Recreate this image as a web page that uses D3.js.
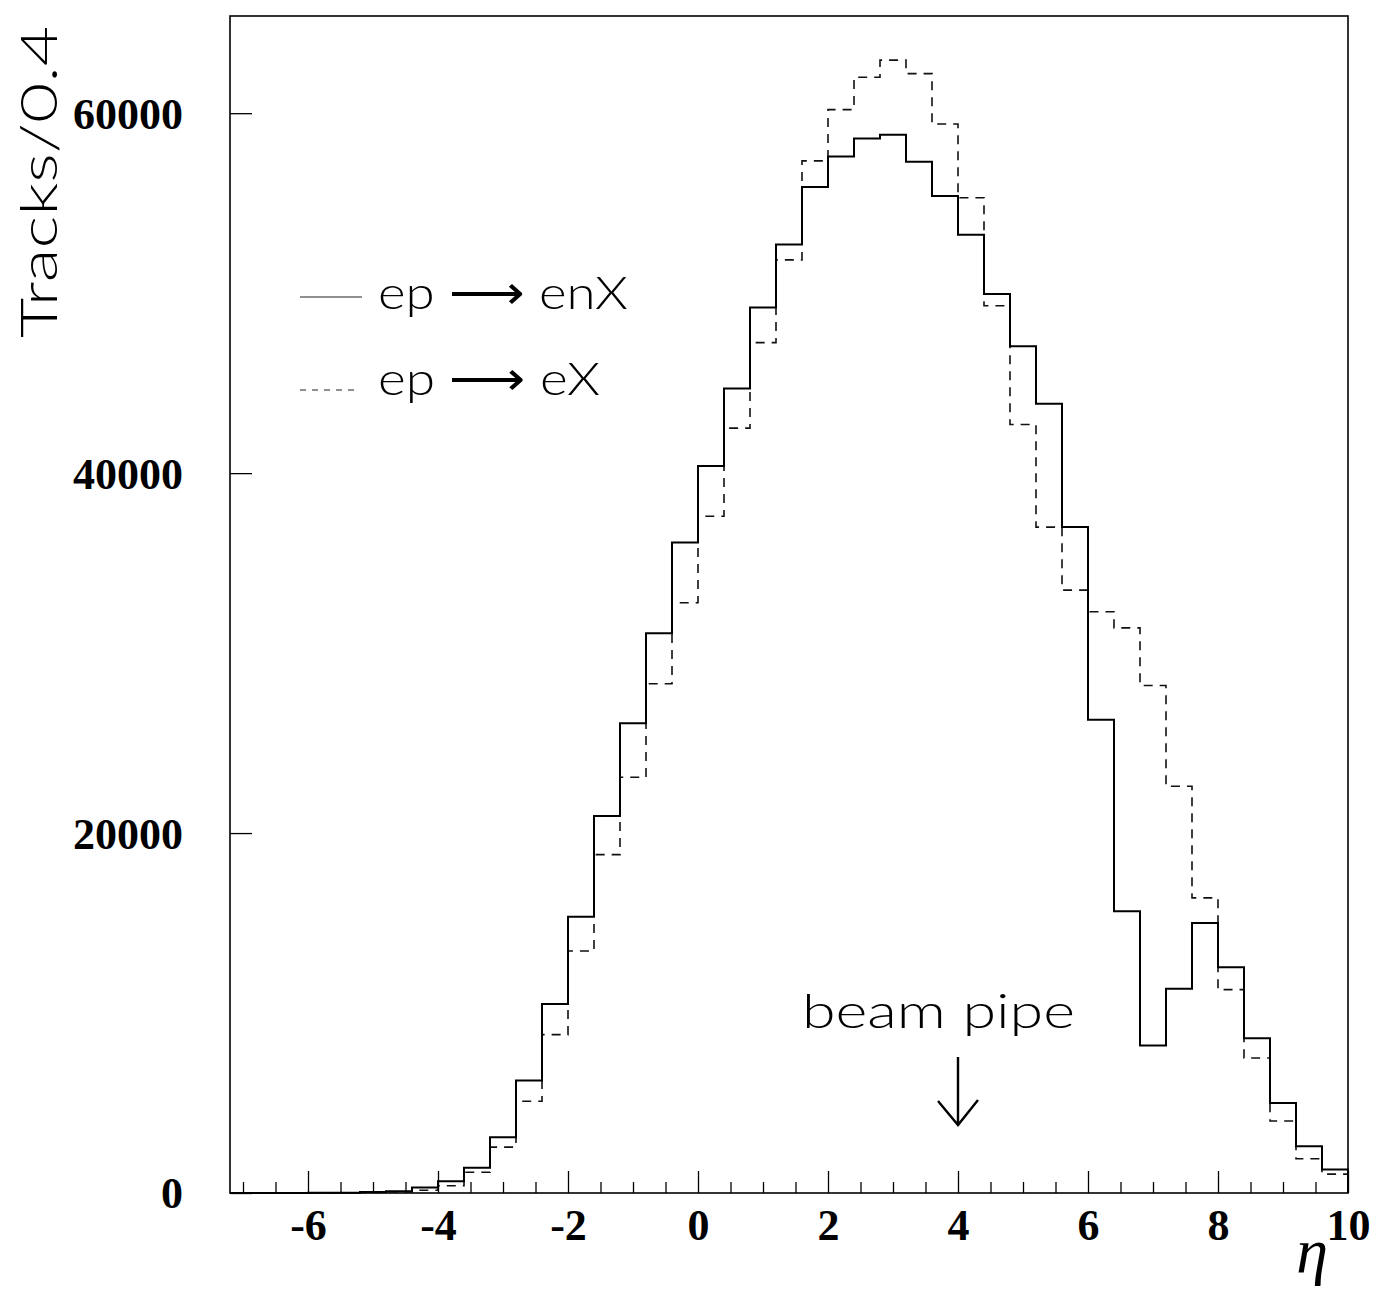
<!DOCTYPE html>
<html>
<head>
<meta charset="utf-8">
<script src="https://cdn.jsdelivr.net/npm/d3@7"></script>
<style>
  html, body { margin: 0; padding: 0; background: #fff; }
  svg { display: block; }
</style>
</head>
<body>
<svg id="chart" width="1394" height="1296"></svg>
<script>
// ---- data ----
const binStart = -7.2;
const binWidth = 0.4;
// ep -> enX (solid), tracks per 0.4 in eta, 43 bins from -7.2 to 10
const enX = [0, 0, 0, 10, 20, 50, 100, 300, 650, 1400, 3100, 6250, 10500, 15350, 20950,
  26100, 31100, 36150, 40400, 44700, 49200, 52700, 55900, 57600, 58600, 58800, 57300,
  55400, 53250, 49950, 47050, 43850, 37000, 26300, 15650, 8200, 11350, 15000, 12550,
  8600, 5000, 2600, 1300];
// ep -> eX (dashed)
const eX = [0, 0, 0, 0, 10, 30, 70, 150, 400, 1150, 2550, 5100, 8800, 13450, 18800,
  23100, 28300, 32800, 37600, 42500, 47250, 51850, 57350, 60200, 62000, 62950, 62200,
  59400, 55300, 49300, 42700, 37000, 33500, 32300, 31400, 28200, 22600, 16400, 11300,
  7500, 4000, 1900, 1050];
const xMajorTicks = [-6, -4, -2, 0, 2, 4, 6, 8, 10];
const xMinorTicks = [-7, -6.5, -5.5, -5, -4.5, -3.5, -3, -2.5, -1.5, -1, -0.5, 0.5, 1, 1.5,
  2.5, 3, 3.5, 4.5, 5, 5.5, 6.5, 7, 7.5, 8.5, 9, 9.5];
const yTicks = [0, 20000, 40000, 60000];
const legendLabels = ["ep \u27F6 enX", "ep \u27F6 eX"];
const yTitle = "Tracks/0.4";
const xTitle = "\u03B7";
const annotation = "beam pipe";
const annotationEta = 4;

// ---- layout ----
const svg = d3.select("#chart");
const L = 230, R = 1348, T = 16, B = 1193;
const x = d3.scaleLinear().domain([-7.2, 10]).range([L, R]);
const y = d3.scaleLinear().domain([0, 65400]).range([B, T]);

const serif = "'Liberation Serif', 'Times New Roman', serif";
const sans = "Lato, 'DejaVu Sans', sans-serif";

// histogram outline path builder
function histPoints(vals) {
  const pts = [[binStart, 0]];
  vals.forEach((v, i) => {
    const a = binStart + i * binWidth, b = binStart + (i + 1) * binWidth;
    pts.push([a, v], [b, v]);
  });
  pts.push([binStart + vals.length * binWidth, 0]);
  return pts;
}
const line = d3.line().x(d => x(d[0])).y(d => y(d[1]));

// dashed histogram
svg.append("path")
  .attr("d", line(histPoints(eX)))
  .attr("fill", "none").attr("stroke", "#111")
  .attr("stroke-width", 1.6).attr("stroke-dasharray", "9,7");
// solid histogram
svg.append("path")
  .attr("d", line(histPoints(enX)))
  .attr("fill", "none").attr("stroke", "#000")
  .attr("stroke-width", 2);

// axes
const plain = d => String(d);
const gx = svg.append("g").attr("transform", `translate(0,${B})`);
gx.call(d3.axisBottom(x).tickValues(xMinorTicks).tickSize(-11).tickFormat(""));
const gx2 = svg.append("g").attr("transform", `translate(0,${B})`);
gx2.call(d3.axisBottom(x).tickValues(xMajorTicks).tickSize(-22).tickFormat(plain));
gx2.selectAll("text").attr("y", 47).attr("dy", null)
  .attr("font-family", serif).attr("font-weight", "bold").attr("font-size", 44).attr("fill", "#000");

const gy = svg.append("g").attr("transform", `translate(${L},0)`);
gy.call(d3.axisLeft(y).tickValues(yTicks).tickSize(-22).tickPadding(47).tickFormat(plain));
gy.selectAll("text").attr("dy", "0.34em")
  .attr("font-family", serif).attr("font-weight", "bold").attr("font-size", 44).attr("fill", "#000");

svg.selectAll(".domain").remove();
svg.selectAll(".tick line").attr("stroke", "#000").attr("stroke-width", 1.3);

// frame
svg.append("rect").attr("x", L).attr("y", T).attr("width", R - L).attr("height", B - T)
  .attr("fill", "none").attr("stroke", "#000").attr("stroke-width", 1.6);

// y title
svg.append("text")
  .attr("transform", "translate(57,182) rotate(-90)")
  .attr("text-anchor", "middle")
  .attr("font-family", sans).attr("font-weight", 300).attr("font-size", 52)
  .attr("textLength", 312).attr("lengthAdjust", "spacingAndGlyphs")
  .text(yTitle);

// x title
svg.append("text")
  .attr("x", 1312).attr("y", 1272).attr("text-anchor", "middle")
  .attr("font-family", serif).attr("font-style", "italic").attr("font-size", 64)
  .text(xTitle);

// legend
const leg = svg.append("g");
const legRows = [
  { label: legendLabels[0], ly: 297, ty: 309, w: 250, dash: null, lx2: 362 },
  { label: legendLabels[1], ly: 390, ty: 395, w: 222, dash: "6,6", lx2: 358 }
];
legRows.forEach(r => {
  leg.append("line").attr("x1", 300).attr("x2", r.lx2).attr("y1", r.ly).attr("y2", r.ly)
    .attr("stroke", "#222").attr("stroke-width", 1.2)
    .attr("stroke-dasharray", r.dash);
  leg.append("text").attr("x", 378).attr("y", r.ty)
    .attr("font-family", sans).attr("font-weight", 300).attr("font-size", 46)
    .attr("textLength", r.w).attr("lengthAdjust", "spacingAndGlyphs")
    .text(r.label);
});

// beam pipe annotation
const ax = x(annotationEta);
svg.append("text").attr("x", 802).attr("y", 1028)
  .attr("font-family", sans).attr("font-weight", 300).attr("font-size", 48)
  .attr("textLength", 273).attr("lengthAdjust", "spacingAndGlyphs")
  .text(annotation);
svg.append("path")
  .attr("d", `M${ax},1057 L${ax},1125 M${ax - 20},1101 L${ax},1125 L${ax + 20},1100`)
  .attr("fill", "none").attr("stroke", "#000").attr("stroke-width", 2.4);
</script>
</body>
</html>
